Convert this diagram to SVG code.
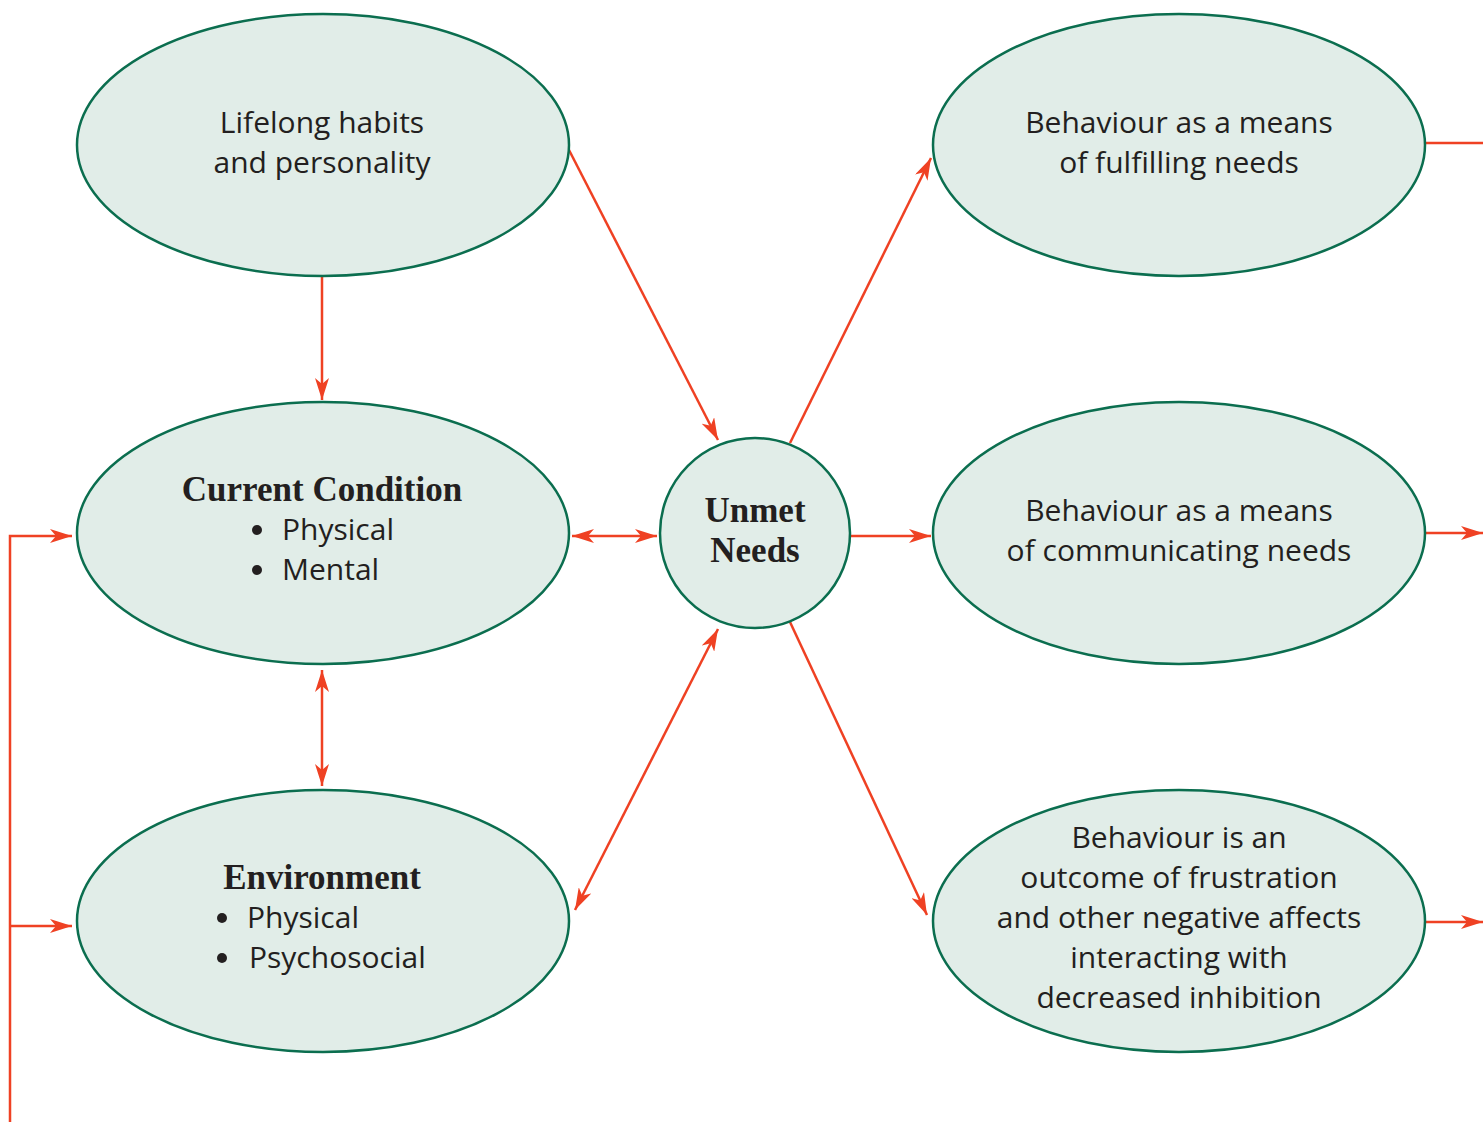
<svg xmlns="http://www.w3.org/2000/svg" width="1483" height="1122" viewBox="0 0 1483 1122">
<defs>
<style>
.n{fill:#e1ede8;stroke:#0b6e4f;stroke-width:2.5}
.t{font-family:"Open Sans","Liberation Sans",sans-serif;font-size:30px;fill:#231f20;text-anchor:middle}
.tl{font-family:"Open Sans","Liberation Sans",sans-serif;font-size:30px;fill:#231f20}
.b{font-family:"Liberation Serif","DejaVu Serif",serif;font-weight:bold;font-size:35px;fill:#231f20;text-anchor:middle}
.c{stroke:#ef4123;stroke-width:2.5;fill:none}
</style>
<marker id="a" viewBox="0 0 22 14" refX="22" refY="7" markerWidth="22" markerHeight="14" markerUnits="userSpaceOnUse" orient="auto-start-reverse">
<path d="M0,0 L22,7 L0,14 L6,7 Z" fill="#ef4123"/>
</marker>
</defs>
<rect width="1483" height="1122" fill="#fff"/>
<g id="connectors">
<line class="c" x1="322" y1="277" x2="322" y2="400" marker-end="url(#a)"/>
<line class="c" x1="569" y1="150" x2="718" y2="440" marker-end="url(#a)"/>
<line class="c" x1="572" y1="536" x2="657" y2="536" marker-start="url(#a)" marker-end="url(#a)"/>
<line class="c" x1="322" y1="670" x2="322" y2="786" marker-start="url(#a)" marker-end="url(#a)"/>
<line class="c" x1="575" y1="910" x2="718" y2="629" marker-start="url(#a)" marker-end="url(#a)"/>
<line class="c" x1="790" y1="443" x2="931" y2="158" marker-end="url(#a)"/>
<line class="c" x1="850" y1="536" x2="931" y2="536" marker-end="url(#a)"/>
<line class="c" x1="790" y1="622" x2="927" y2="915" marker-end="url(#a)"/>
<line class="c" x1="1425" y1="143" x2="1483" y2="143"/>
<line class="c" x1="1425" y1="533" x2="1483" y2="533" marker-end="url(#a)"/>
<line class="c" x1="1425" y1="922" x2="1483" y2="922" marker-end="url(#a)"/>
<polyline class="c" points="10,1122 10,536 72,536" marker-end="url(#a)"/>
<line class="c" x1="10" y1="926" x2="72" y2="926" marker-end="url(#a)"/>
</g>
<g id="lifelong">
<ellipse class="n" cx="323" cy="145" rx="246" ry="131"/>
<text class="t" x="322" y="133">Lifelong habits</text>
<text class="t" x="322" y="173">and personality</text>
</g>
<g id="current">
<ellipse class="n" cx="323" cy="533" rx="246" ry="131"/>
<text class="b" x="322" y="501">Current Condition</text>
<circle cx="257" cy="530" r="5" fill="#231f20"/>
<text class="tl" x="282" y="540">Physical</text>
<circle cx="257" cy="570" r="5" fill="#231f20"/>
<text class="tl" x="282" y="580">Mental</text>
</g>
<g id="environment">
<ellipse class="n" cx="323" cy="921" rx="246" ry="131"/>
<text class="b" x="322" y="889">Environment</text>
<circle cx="222" cy="918" r="5" fill="#231f20"/>
<text class="tl" x="247" y="928">Physical</text>
<circle cx="222" cy="958" r="5" fill="#231f20"/>
<text class="tl" x="249" y="968">Psychosocial</text>
</g>
<g id="unmet">
<circle class="n" cx="755" cy="533" r="95"/>
<text class="b" x="755" y="522">Unmet</text>
<text class="b" x="755" y="562">Needs</text>
</g>
<g id="fulfilling">
<ellipse class="n" cx="1179" cy="145" rx="246" ry="131"/>
<text class="t" x="1179" y="133">Behaviour as a means</text>
<text class="t" x="1179" y="173">of fulfilling needs</text>
</g>
<g id="communicating">
<ellipse class="n" cx="1179" cy="533" rx="246" ry="131"/>
<text class="t" x="1179" y="521">Behaviour as a means</text>
<text class="t" x="1179" y="561">of communicating needs</text>
</g>
<g id="frustration">
<ellipse class="n" cx="1179" cy="921" rx="246" ry="131"/>
<text class="t" x="1179" y="848">Behaviour is an</text>
<text class="t" x="1179" y="888">outcome of frustration</text>
<text class="t" x="1179" y="928">and other negative affects</text>
<text class="t" x="1179" y="968">interacting with</text>
<text class="t" x="1179" y="1008">decreased inhibition</text>
</g>
</svg>
